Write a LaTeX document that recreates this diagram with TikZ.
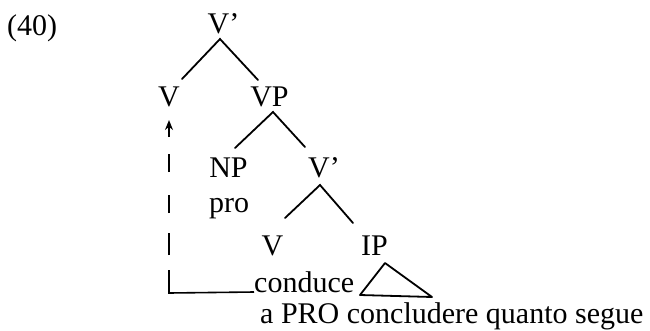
\documentclass[tikz,border=0pt]{standalone}
\usepackage{fontspec}
\setmainfont{Liberation Serif}
\usetikzlibrary{calc,arrows.meta}
\begin{document}
\begin{tikzpicture}[x=1pt,y=-1pt,
  lab/.style={inner sep=0pt,anchor=base,font=\fontsize{30}{34}\selectfont},
  labw/.style={inner sep=0pt,anchor=base west,font=\fontsize{30}{34}\selectfont},
  br/.style={line width=1.8pt,line cap=round},
  mv/.style={line width=1.6pt}]
\useasboundingbox (0,0) rectangle (650,330);
\node[labw] (ex) at (7,35) {(40)};
\node[lab] (vb1) at (223.5,33) {V’};
\node[lab] (v1) at (169,106) {V};
\node[lab] (vp) at (269.5,106) {VP};
\node[lab] (np) at (228.5,177) {NP};
\node[lab] (vb2) at (324,177) {V’};
\node[labw] (pro) at (209,212) {pro};
\node[lab] (v2) at (272.5,255) {V};
\node[lab] (ip) at (374.5,255) {IP};
\node[labw] (cond) at (254,292) {conduce};
\node[labw] (comp) at (260,323) {a PRO concludere quanto segue};
% branches
\draw[br] ($(v1.base)+(13,-27)$) -- ($(vb1.base)+(-3.5,6)$) -- ($(vp.base)+(-11.5,-26)$);
\draw[br] ($(np.base)+(6.5,-29)$) -- ($(vp.base)+(3.5,6)$) -- ($(vb2.base)+(-19,-30)$);
\draw[br] ($(v2.base)+(12.5,-37)$) -- ($(vb2.base)+(-4,8)$) -- ($(ip.base)+(-21.5,-32)$);
\draw[br,line join=round] ($(ip.base)+(10.5,8)$) -- ($(ip.base)+(-14.5,40)$) -- ($(ip.base)+(57.5,42)$) -- cycle;
% movement arrow
\coordinate (corner) at (v1.base |- cond.base);
\draw[mv] (cond.base west) -- ($(corner)+(0,1)$) -- ($(corner)+(0,-22)$) coordinate (d0);
\draw[mv,dash pattern=on 0pt off 15pt on 22pt off 20pt on 18pt off 23pt on 18pt off 17pt on 60pt,
  -{Stealth[length=10pt,width=8pt]}] (d0) -- ($(v1.base)+(0,14)$);
\end{tikzpicture}
\end{document}
